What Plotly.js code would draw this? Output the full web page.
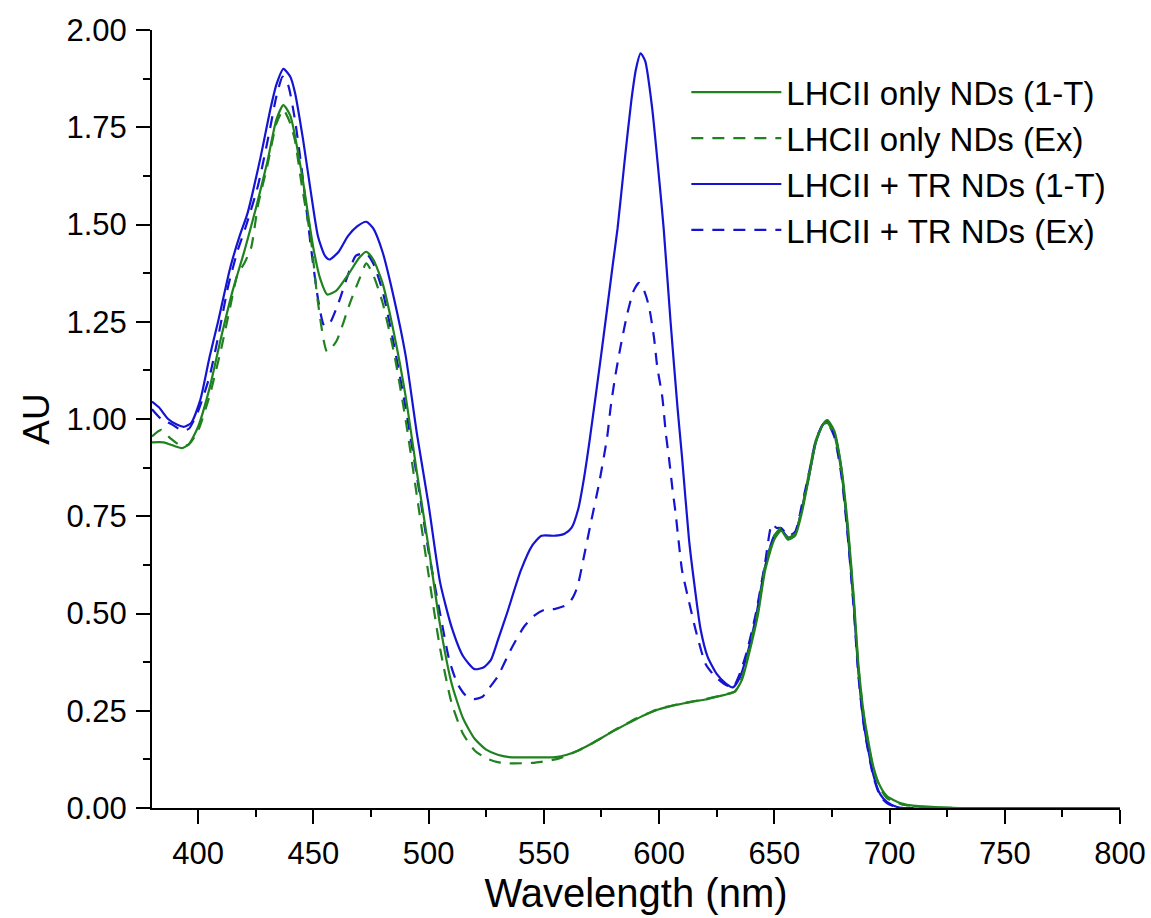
<!DOCTYPE html>
<html>
<head>
<meta charset="utf-8">
<script src="https://cdn.plot.ly/plotly-3.0.1.min.js"></script>
<style>html,body{margin:0;padding:0;background:#fff;}</style>
</head>
<body>
<div id="chart" style="width:1151px;height:918px;"></div>
<script>
// ---- Data ----
const seriesNames = [
  "LHCII only NDs (1-T)",
  "LHCII only NDs (Ex)",
  "LHCII + TR NDs (1-T)",
  "LHCII + TR NDs (Ex)"
];

const wlGreen1T = [380,385,390,393,396,400,405,410,415,420,425,430,434,437,440,445,450,453,456,460,465,470,473,476,480,485,490,495,500,505,510,515,520,525,530,535,545,555,560,565,570,575,580,585,590,595,600,605,610,615,620,625,630,633,636,640,643,646,650,653,656,659,662,665,668,671,673,676,679,682,684.5,686.5,689,693,696,699,705,710,720,730,800];
const auGreen1T = [0.94,0.94,0.93,0.925,0.935,0.98,1.08,1.21,1.33,1.43,1.54,1.66,1.77,1.807,1.78,1.63,1.44,1.36,1.32,1.33,1.37,1.415,1.43,1.41,1.35,1.22,1.06,0.86,0.67,0.47,0.32,0.23,0.178,0.150,0.137,0.131,0.130,0.131,0.137,0.148,0.163,0.180,0.197,0.213,0.228,0.242,0.254,0.262,0.268,0.274,0.279,0.286,0.293,0.30,0.33,0.42,0.50,0.61,0.69,0.713,0.69,0.70,0.76,0.85,0.94,0.985,0.997,0.97,0.88,0.72,0.54,0.37,0.235,0.106,0.055,0.03,0.012,0.006,0.002,0,0];

const wlGreenEx = [380,384,388,393,396,400,405,410,414,417,420,423,426,430,434,437,440,442,445,449,452,456,460,466,470,473,476,480,485,490,495,500,505,510,515,520,525,530,535,545,555,560,565,570,575,580,585,590,595,600,610,620,630,633,636,640,643,646,650,653,656,659,662,665,668,671,673,676,679,682,684.5,686.5,689,693,696,699,705,710,720,730,800];
const auGreenEx = [0.955,0.972,0.95,0.93,0.935,0.97,1.06,1.18,1.29,1.37,1.40,1.44,1.55,1.65,1.76,1.795,1.76,1.717,1.60,1.46,1.30,1.173,1.20,1.30,1.36,1.40,1.37,1.30,1.17,1.00,0.80,0.60,0.41,0.27,0.19,0.148,0.128,0.118,0.115,0.116,0.125,0.135,0.148,0.163,0.18,0.198,0.214,0.23,0.243,0.255,0.269,0.28,0.294,0.30,0.335,0.43,0.51,0.62,0.70,0.72,0.695,0.705,0.77,0.86,0.945,0.985,0.99,0.96,0.87,0.71,0.53,0.36,0.23,0.10,0.05,0.025,0.01,0.005,0.001,0,0];

const wlBlue1T = [380,383,387,391,394,397,401,405,408.5,414,418,421.5,427,431.5,434,437,440,442,445.5,449,452,455,457,461,465,469,473,476,480,485,490,495,500,505,510,515,520,524,527,530,534,540,545,549,555,559,562,565,567.5,570,575,580,582,585,588,590,592,594,597,600,602,605,608,610,613,615,618,621,625,629,632,635,638,642,646,650,653,656,659,662,665,668,671,673,676,679,682,684.5,686.5,689,693,696,699,703,706,800];
const auBlue1T = [1.045,1.03,1.00,0.985,0.98,0.99,1.05,1.16,1.246,1.39,1.47,1.53,1.67,1.80,1.86,1.90,1.88,1.84,1.72,1.58,1.47,1.42,1.41,1.43,1.47,1.495,1.507,1.49,1.43,1.31,1.165,0.96,0.78,0.58,0.465,0.39,0.357,0.362,0.38,0.43,0.50,0.61,0.675,0.70,0.70,0.705,0.72,0.77,0.85,0.95,1.17,1.40,1.49,1.66,1.82,1.90,1.94,1.92,1.80,1.62,1.49,1.25,1.03,0.90,0.69,0.59,0.46,0.39,0.345,0.32,0.31,0.335,0.39,0.49,0.62,0.70,0.715,0.695,0.705,0.77,0.85,0.94,0.985,0.995,0.965,0.875,0.70,0.52,0.35,0.21,0.085,0.035,0.015,0.003,0,0];

const wlBlueEx = [380,384,389,393,396,400,405,409,413,417,421,426,431,434,436.7,439,442,445,449,452,454.7,457,461,465,468.5,473,476,480,485,490,495,500,505,509,512.5,516,519.7,523.4,526.5,530,535.6,541.4,546,550,555,560,562.5,564.6,567.4,570.3,574,577.5,579,581,583.3,586.2,589,591.3,593.5,595.6,597.8,599.2,601.4,603,604.3,605.7,607.2,608.6,610,613,616,620.2,624,628,632,635,638,642,646,649,651,653,656,659,662,665,668,671,673,676,679,682,684.5,686.5,689,693,696,699,703,706,800];
const auBlueEx = [1.025,1.00,0.985,0.97,0.975,1.02,1.11,1.22,1.34,1.43,1.50,1.60,1.74,1.83,1.88,1.86,1.77,1.64,1.44,1.31,1.24,1.245,1.30,1.37,1.42,1.425,1.40,1.33,1.19,1.03,0.85,0.66,0.50,0.38,0.32,0.29,0.28,0.286,0.31,0.338,0.406,0.466,0.495,0.509,0.512,0.522,0.54,0.569,0.646,0.73,0.835,0.954,1.03,1.11,1.186,1.27,1.33,1.35,1.33,1.29,1.21,1.135,1.057,0.96,0.90,0.826,0.757,0.68,0.61,0.53,0.455,0.37,0.34,0.32,0.31,0.345,0.40,0.50,0.63,0.73,0.72,0.72,0.70,0.71,0.78,0.86,0.945,0.985,0.99,0.955,0.86,0.69,0.51,0.34,0.205,0.08,0.03,0.012,0.002,0,0];

const xTickVals = [400,450,500,550,600,650,700,750,800];
const yTickVals = [0,0.25,0.5,0.75,1,1.25,1.5,1.75,2];

// ---- Styling ----
const GREEN = "#1f821f";
const BLUE = "#1414d2";
const FONT = "Arial, 'Liberation Sans', sans-serif";
const DASH = "12px,9px";

function trace(x, y, name, color, dash, rank) {
  return {
    x: x, y: y, name: name, type: "scatter", mode: "lines",
    line: {color: color, width: 2.2, dash: dash, shape: "spline", smoothing: 0.6},
    legendrank: rank, hoverinfo: "skip"
  };
}

const data = [
  trace(wlBlueEx, auBlueEx, seriesNames[3], BLUE, DASH, 4),
  trace(wlBlue1T, auBlue1T, seriesNames[2], BLUE, "solid", 3),
  trace(wlGreenEx, auGreenEx, seriesNames[1], GREEN, DASH, 2),
  trace(wlGreen1T, auGreen1T, seriesNames[0], GREEN, "solid", 1)
];

const axisCommon = {
  showgrid: false, zeroline: false, showline: true,
  linecolor: "#000", linewidth: 2,
  ticks: "outside", ticklen: 14, tickwidth: 2, tickcolor: "#000",
  ticklabelstandoff: 3,
  mirror: false
};

const layout = {
  width: 1151, height: 918,
  margin: {l: 152, r: 31, t: 30, b: 110},
  paper_bgcolor: "#fff", plot_bgcolor: "#fff",
  font: {family: FONT, color: "#000"},
  showlegend: true,
  legend: {
    x: 0.552, y: 0.956, xanchor: "left", yanchor: "top",
    bgcolor: "rgba(0,0,0,0)", borderwidth: 0,
    font: {family: FONT, size: 33, color: "#000"},
    itemwidth: 90, tracegroupgap: 0
  },
  xaxis: Object.assign({}, axisCommon, {
    range: [380, 800], tickvals: xTickVals,
    tickfont: {family: FONT, size: 31, color: "#000"},
    minor: {dtick: 25, ticks: "outside", ticklen: 7, tickwidth: 2, tickcolor: "#000", tick0: 375},
    title: {text: "Wavelength (nm)", font: {family: FONT, size: 40, color: "#000"}, standoff: 8}
  }),
  yaxis: Object.assign({}, axisCommon, {
    range: [0, 2], tickvals: yTickVals, tickformat: ".2f",
    tickfont: {family: FONT, size: 31, color: "#000"},
    minor: {dtick: 0.125, ticks: "outside", ticklen: 7, tickwidth: 2, tickcolor: "#000", tick0: 0},
    title: {text: "AU", font: {family: FONT, size: 37, color: "#000"}, standoff: 6}
  })
};

Plotly.newPlot("chart", data, layout, {staticPlot: true, displayModeBar: false});
</script>
</body>
</html>
